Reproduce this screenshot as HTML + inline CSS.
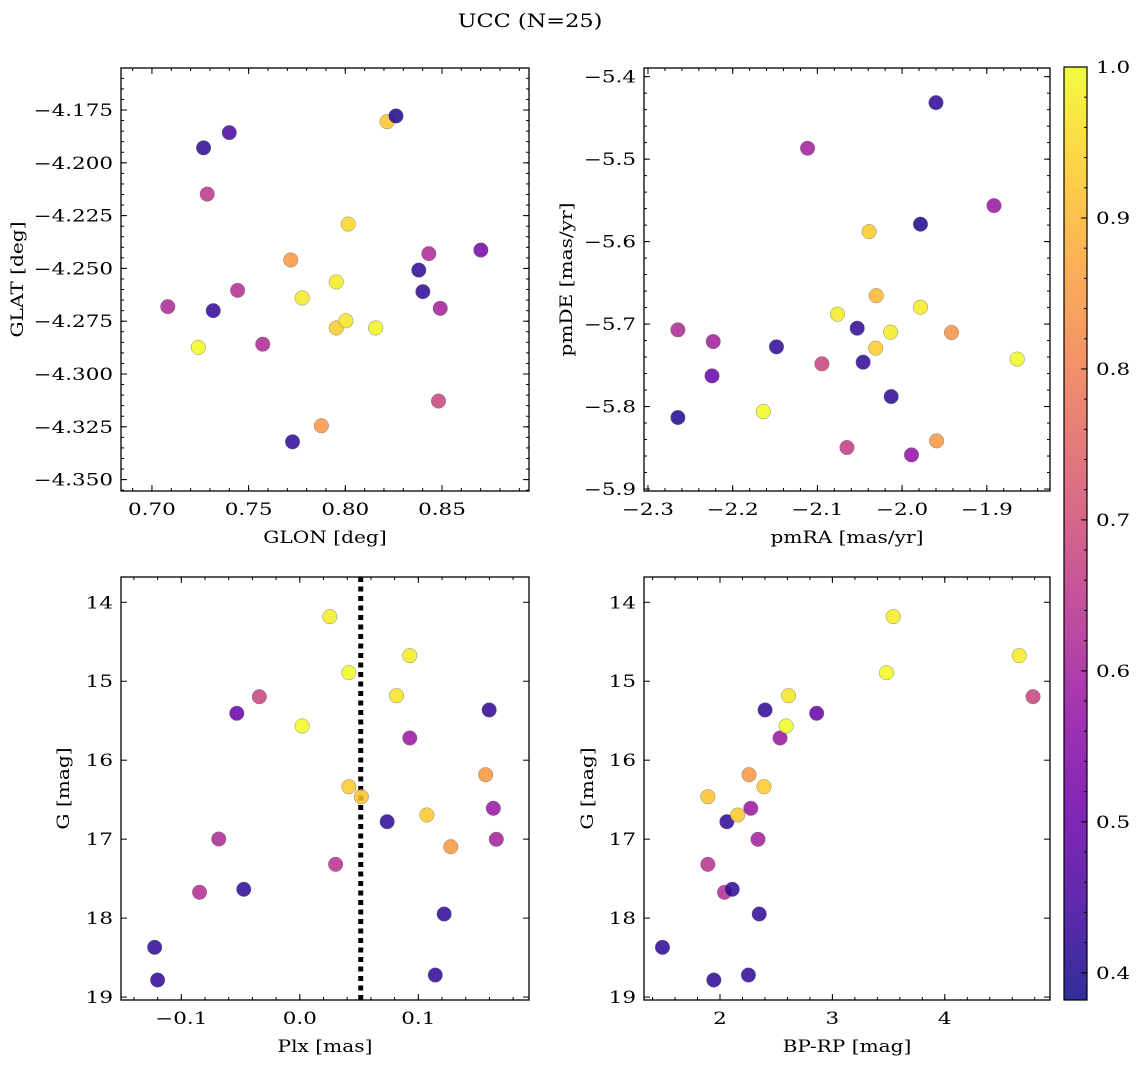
<!DOCTYPE html>
<html>
<head>
<meta charset="utf-8">
<style>
  html,body{margin:0;padding:0;background:#fff;}
  svg{display:block;font-family:"DejaVu Serif","Liberation Serif",serif;}
</style>
</head>
<body>
<svg id="fig" width="1136" height="1067" viewBox="0 0 1136 1067" xmlns="http://www.w3.org/2000/svg">
  <rect x="0" y="0" width="1136" height="1067" fill="#fff"/>
  <text id="ttl" x="530" y="27" font-size="19" text-anchor="middle">UCC (N=25)</text>
  <defs>
    <linearGradient id="cbgrad" x1="0" y1="1" x2="0" y2="0"></linearGradient>
  </defs>
</svg>
<script>
// ---- Panel 1: GLON / GLAT ----
const tlGlon=[0.7082,0.7240,0.7267,0.7286,0.7317,0.7400,0.7443,0.7573,0.7718,0.7727,0.7777,0.7876,0.7953,0.7953,0.8003,0.8015,0.8157,0.8216,0.8262,0.8380,0.8401,0.8432,0.8491,0.8482,0.8701];
const tlGlat=[-4.2681,-4.2874,-4.1929,-4.2148,-4.2700,-4.1857,-4.2604,-4.2859,-4.2460,-4.3321,-4.2640,-4.3245,-4.2564,-4.2782,-4.2748,-4.2290,-4.2782,-4.1805,-4.1778,-4.2508,-4.2610,-4.2430,-4.2689,-4.3128,-4.2413];
const tlProb=[0.62,1.0,0.42,0.65,0.42,0.45,0.63,0.62,0.85,0.42,0.98,0.85,0.98,0.93,0.97,0.95,0.99,0.92,0.40,0.42,0.42,0.62,0.60,0.68,0.52];
const tlXTicks=[0.70,0.75,0.80,0.85];
const tlXTickLabels=["0.70","0.75","0.80","0.85"];
const tlYTicks=[-4.175,-4.200,-4.225,-4.250,-4.275,-4.300,-4.325,-4.350];
const tlYTickLabels=["−4.175","−4.200","−4.225","−4.250","−4.275","−4.300","−4.325","−4.350"];

// ---- Panel 2: pmRA / pmDE ----
const trPmra=[-2.2647,-2.2647,-2.2230,-2.2244,-2.1638,-2.1483,-2.1116,-2.0947,-2.0763,-2.0651,-2.0530,-2.0460,-2.0390,-2.0305,-2.0312,-2.0136,-2.0129,-1.9889,-1.9783,-1.9783,-1.9600,-1.9593,-1.9417,-1.8915,-1.8641];
const trPmde=[-5.707,-5.8133,-5.7212,-5.7628,-5.8061,-5.7276,-5.4868,-5.7482,-5.6880,-5.8497,-5.7050,-5.7462,-5.5879,-5.6655,-5.7292,-5.7098,-5.7879,-5.8586,-5.5789,-5.6795,-5.4315,-5.8416,-5.7103,-5.5564,-5.7425];
const trProb=[0.62,0.40,0.60,0.50,1.0,0.42,0.60,0.68,0.98,0.66,0.42,0.42,0.93,0.90,0.93,0.98,0.42,0.57,0.40,0.98,0.42,0.85,0.84,0.58,1.0];
const trXTicks=[-2.3,-2.2,-2.1,-2.0,-1.9];
const trXTickLabels=["−2.3","−2.2","−2.1","−2.0","−1.9"];
const trYTicks=[-5.4,-5.5,-5.6,-5.7,-5.8,-5.9];
const trYTickLabels=["−5.4","−5.5","−5.6","−5.7","−5.8","−5.9"];

// ---- Panel 3: Plx / G ----
const blPlx=[-0.1225,-0.1200,-0.0846,-0.0684,-0.0532,-0.0473,-0.0342,0.0020,0.0253,0.0302,0.0414,0.0414,0.0519,0.0737,0.0816,0.0928,0.0928,0.1072,0.1143,0.1218,0.1274,0.1568,0.1598,0.1633,0.1658];
const blG=[18.370,18.784,17.673,16.998,15.406,17.635,15.196,15.567,14.182,17.319,14.892,16.336,16.462,16.779,15.183,14.676,15.719,16.694,18.721,17.948,17.096,16.184,15.364,16.609,17.002];
const blProb=[0.42,0.42,0.63,0.62,0.50,0.42,0.68,1.0,0.98,0.64,1.0,0.93,0.92,0.42,0.97,0.98,0.58,0.93,0.42,0.42,0.85,0.85,0.42,0.58,0.60];
const blPlxRef=[0.0514];
const blXTicks=[-0.1,0.0,0.1];
const blXTickLabels=["−0.1","0.0","0.1"];
const gTicks=[14,15,16,17,18,19];
const gTickLabels=["14","15","16","17","18","19"];

// ---- Panel 4: BP-RP / G ----
const brBprp=[1.488,1.892,1.892,1.945,2.040,2.061,2.109,2.157,2.253,2.258,2.274,2.338,2.349,2.391,2.401,2.534,2.588,2.610,2.860,3.482,3.541,4.662,4.785];
const brG=[18.370,16.462,17.319,18.784,17.673,16.779,17.635,16.694,18.721,16.184,16.609,17.002,17.948,16.336,15.364,15.719,15.567,15.183,15.406,14.892,14.182,14.676,15.196];
const brProb=[0.42,0.92,0.64,0.42,0.63,0.42,0.42,0.93,0.42,0.85,0.58,0.60,0.42,0.93,0.42,0.58,1.0,0.97,0.50,1.0,0.98,0.98,0.68];
const brXTicks=[2,3,4];
const brXTickLabels=["2","3","4"];

// ---- Colorbar ----
const cbTicks=[0.4,0.5,0.6,0.7,0.8,0.9,1.0];
const cbTickLabels=["0.4","0.5","0.6","0.7","0.8","0.9","1.0"];
const cbRange=[0.382,1.0];

const NS="http://www.w3.org/2000/svg";
const svg=document.getElementById('fig');
const plasma=[[13,8,135],[65,4,157],[106,0,168],[143,13,164],[177,42,144],[204,71,120],[225,100,98],[242,132,75],[252,166,54],[252,206,37],[240,249,33]];
function cmap(t){
  t=Math.max(0,Math.min(1,t));
  const f=t*10, i=Math.min(9,Math.floor(f)), r=f-i;
  const a=plasma[i], b=plasma[i+1];
  return 'rgb('+[0,1,2].map(k=>Math.round(a[k]+(b[k]-a[k])*r)).join(',')+')';
}
function probColor(p){return cmap((p-cbRange[0])/(cbRange[1]-cbRange[0]));}
function mk(tag,attrs,parent){
  const e=document.createElementNS(NS,tag);
  for(const k in attrs) e.setAttribute(k,attrs[k]);
  (parent||svg).appendChild(e);
  return e;
}
function widen(t,f){
  const w=t.getComputedTextLength();
  if(w>0){t.setAttribute('textLength',(w*f).toFixed(1));t.setAttribute('lengthAdjust','spacingAndGlyphs');}
}
function lin(d0,d1,r0,r1){return v=>r0+(v-d0)*(r1-r0)/(d1-d0);}

function panel(cfg){
  const g=mk('g',{});
  
  
  const xs=lin(cfg.xd[0],cfg.xd[1],cfg.x0,cfg.x1);
  const ys=lin(cfg.yd[0],cfg.yd[1],cfg.y1,cfg.y0);
  if(cfg.vline){
    cfg.vline.forEach(v=>{
      const l=mk('line',{x1:xs(v),x2:xs(v),y1:cfg.y0,y2:cfg.y1,stroke:'#000','stroke-width':5,'stroke-dasharray':'5,4.5'},g);
      
      
    });
  }
  const pg=mk('g',{},g);
  
  
  cfg.xv.forEach((xv,i)=>{
    const c=mk('circle',{cx:xs(xv),cy:ys(cfg.yv[i]),r:7.3,fill:probColor(cfg.pv[i]),'fill-opacity':0.85,stroke:'#6f6f6f','stroke-width':0.5,'stroke-opacity':0.8},pg);
    
    
  });
  const fr=mk('rect',{x:cfg.x0,y:cfg.y0,width:cfg.x1-cfg.x0,height:cfg.y1-cfg.y0,fill:'none',stroke:'#000','stroke-width':1.3},g);
  
  
  const tk=(x1,y1,x2,y2)=>mk('line',{x1,y1,x2,y2,stroke:'#000','stroke-width':1},g);
  const mx0=Math.ceil(cfg.xd[0]/cfg.xMinor-1e-6), mx1=Math.floor(cfg.xd[1]/cfg.xMinor+1e-6);
  for(let k=mx0;k<=mx1;k++){const x=xs(k*cfg.xMinor);tk(x,cfg.y1,x,cfg.y1-3);tk(x,cfg.y0,x,cfg.y0+3);}
  const my0=Math.ceil(cfg.yd[0]/cfg.yMinor-1e-6), my1=Math.floor(cfg.yd[1]/cfg.yMinor+1e-6);
  for(let k=my0;k<=my1;k++){const y=ys(k*cfg.yMinor);tk(cfg.x0,y,cfg.x0+3,y);tk(cfg.x1,y,cfg.x1-3,y);}
  cfg.xt.forEach((v,i)=>{
    const x=xs(v);tk(x,cfg.y1,x,cfg.y1-6);tk(x,cfg.y0,x,cfg.y0+6);
    const t=mk('text',{x:x,y:cfg.y1+24,'font-size':16.5,'text-anchor':'middle'},g);
    t.textContent=cfg.xtl[i];
    
    
    widen(t,1.3);
  });
  cfg.yt.forEach((v,i)=>{
    const y=ys(v);tk(cfg.x0,y,cfg.x0+6,y);tk(cfg.x1,y,cfg.x1-6,y);
    const t=mk('text',{x:cfg.x0-8,y:y+6,'font-size':16.5,'text-anchor':'end'},g);
    t.textContent=cfg.ytl[i];
    
    
    widen(t,1.3);
  });
  const xl=mk('text',{x:(cfg.x0+cfg.x1)/2,y:cfg.y1+52,'font-size':16.5,'text-anchor':'middle'},g);
  xl.textContent=cfg.xlabel;
  
  
  widen(xl,1.22);
  const cy=(cfg.y0+cfg.y1)/2;
  const yl=mk('text',{x:cfg.ylx,y:cy,'font-size':16.5,'text-anchor':'middle',transform:'rotate(-90 '+cfg.ylx+' '+cy+')'},g);
  yl.textContent=cfg.ylabel;
  
  
  widen(yl,1.22);
}

panel({name:'glon-glat-panel',x0:121,x1:529,y0:68,y1:491,xd:[0.6840,0.8950],yd:[-4.3554,-4.1551],
  xv:tlGlon,yv:tlGlat,pv:tlProb,xt:tlXTicks,xtl:tlXTickLabels,yt:tlYTicks,ytl:tlYTickLabels,
  xMinor:0.01,yMinor:0.005,xlabel:'GLON [deg]',ylabel:'GLAT [deg]',ylx:23});
panel({name:'pm-panel',x0:644,x1:1050,y0:68,y1:491,xd:[-2.3047,-1.8254],yd:[-5.9024,-5.3895],
  xv:trPmra,yv:trPmde,pv:trProb,xt:trXTicks,xtl:trXTickLabels,yt:trYTicks,ytl:trYTickLabels,
  xMinor:0.02,yMinor:0.02,xlabel:'pmRA [mas/yr]',ylabel:'pmDE [mas/yr]',ylx:572});
panel({name:'plx-g-panel',x0:121,x1:529,y0:577,y1:1000,xd:[-0.1509,0.1934],yd:[19.037,13.680],
  xv:blPlx,yv:blG,pv:blProb,xt:blXTicks,xtl:blXTickLabels,yt:gTicks,ytl:gTickLabels,
  xMinor:0.02,yMinor:0.2,xlabel:'Plx [mas]',ylabel:'G [mag]',ylx:69,vline:blPlxRef});
panel({name:'cmd-panel',x0:644,x1:1050,y0:577,y1:1000,xd:[1.3238,4.936],yd:[19.037,13.680],
  xv:brBprp,yv:brG,pv:brProb,xt:brXTicks,xtl:brXTickLabels,yt:gTicks,ytl:gTickLabels,
  xMinor:0.2,yMinor:0.2,xlabel:'BP-RP [mag]',ylabel:'G [mag]',ylx:593});

(function(){
  const x0=1064,x1=1087,y0=67,y1=1000;
  const grad=document.getElementById('cbgrad');
  for(let i=0;i<=20;i++){
    mk('stop',{offset:(i/20),'stop-color':cmap(i/20),'stop-opacity':0.85},grad);
  }
  const g=mk('g',{});
  
  
  mk('rect',{x:x0,y:y0,width:x1-x0,height:y1-y0,fill:'url(#cbgrad)'},g);
  mk('rect',{x:x0,y:y0,width:x1-x0,height:y1-y0,fill:'none',stroke:'#000','stroke-width':1.2},g);
  const ys=lin(cbRange[0],cbRange[1],y1,y0);
  const m0=Math.ceil(cbRange[0]/0.02-1e-6), m1=Math.floor(cbRange[1]/0.02+1e-6);
  for(let k=m0;k<=m1;k++){const y=ys(k*0.02);mk('line',{x1:x1,x2:x1-3,y1:y,y2:y,stroke:'#000','stroke-width':1},g);}
  cbTicks.forEach((v,i)=>{
    const y=ys(v);
    mk('line',{x1:x1,x2:x1-6,y1:y,y2:y,stroke:'#000','stroke-width':1},g);
    const t=mk('text',{x:x1+9,y:y+6,'font-size':16.5},g);
    t.textContent=cbTickLabels[i];
    
    
    widen(t,1.3);
  });
})();
widen(document.getElementById('ttl'),1.18);
</script>
</body>
</html>
